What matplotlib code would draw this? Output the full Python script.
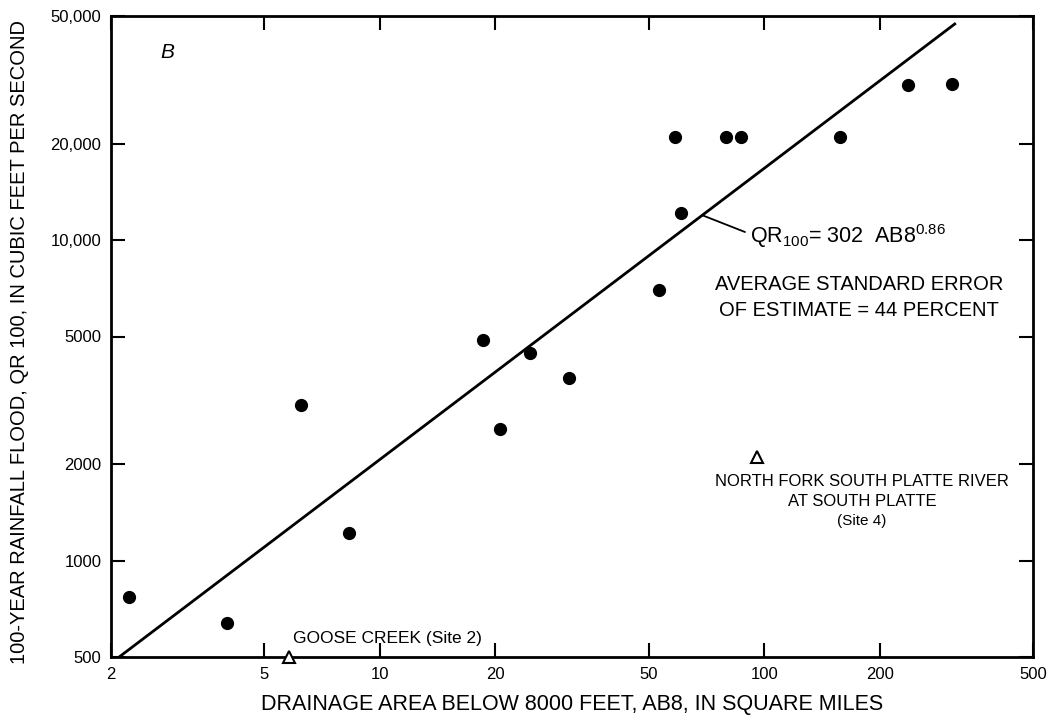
import numpy as np
import matplotlib
matplotlib.use("Agg")
import matplotlib.pyplot as plt
from matplotlib.ticker import FixedLocator, FixedFormatter, NullLocator

plt.rcParams['font.family'] = ['Liberation Sans', 'DejaVu Sans']
plt.rcParams['mathtext.fontset'] = 'custom'
plt.rcParams['mathtext.rm'] = 'Liberation Sans'
plt.rcParams['mathtext.it'] = 'Liberation Sans:italic'

# ---- data ----
area_sites = [2.23, 4.0, 6.25, 8.3, 18.6, 20.6, 24.6, 31.0, 53.3, 58.6,
              60.8, 79.5, 87.0, 157.0, 236.0, 307.0]
flood_sites = [770, 640, 3050, 1220, 4880, 2580, 4450, 3700, 7000, 21000,
               12100, 21000, 21000, 21000, 30500, 30700]

area_outliers = [5.8, 96.0]
flood_outliers = [500, 2100]

line_area = [2.1, 315.0]
line_flood = [500, 47500]

x_ticks = [2, 5, 10, 20, 50, 100, 200, 500]
x_tick_labels = ['2', '5', '10', '20', '50', '100', '200', '500']
y_ticks = [500, 1000, 2000, 5000, 10000, 20000, 50000]
y_tick_labels = ['500', '1000', '2000', '5000', '10,000', '20,000', '50,000']

W, H = 1052, 717
fig = plt.figure(figsize=(W / 100, H / 100), dpi=100)
L, R, T, B = 111, 1033, 16, 657
ax = fig.add_axes([L / W, 1 - B / H, (R - L) / W, (B - T) / H])

ax.set_xscale('log')
ax.set_yscale('log')
ax.set_xlim(2, 500)
ax.set_ylim(500, 50000)

ax.plot(line_area, line_flood, color='black', lw=2.0, solid_capstyle='butt')
ax.plot(area_sites, flood_sites, 'o', color='black', ms=8.5, clip_on=False)
ax.plot(area_outliers, flood_outliers, '^', mfc='white', mec='black',
        mew=1.5, ms=8.5, clip_on=False, zorder=5)

ax.xaxis.set_major_locator(FixedLocator(x_ticks))
ax.xaxis.set_major_formatter(FixedFormatter(x_tick_labels))
ax.xaxis.set_minor_locator(NullLocator())
ax.yaxis.set_major_locator(FixedLocator(y_ticks))
ax.yaxis.set_major_formatter(FixedFormatter(y_tick_labels))
ax.yaxis.set_minor_locator(NullLocator())
ax.tick_params(which='major', direction='in', length=10, width=1.5,
               top=True, right=True, labelsize=12, pad=7)
for s in ax.spines.values():
    s.set_linewidth(2.0)

ax.set_xlabel('DRAINAGE AREA BELOW 8000 FEET, AB8, IN SQUARE MILES', fontsize=15.5)
ax.set_ylabel('100-YEAR RAINFALL FLOOD, QR 100, IN CUBIC FEET PER SECOND', fontsize=14.5)
ax.xaxis.set_label_coords(0.5, -0.058)
ax.yaxis.set_label_coords(-0.089, 0.491)

def fx(px):
    return (px - L) / (R - L)

def fy(py):
    return (B - py) / (B - T)

ax.text(fx(167), fy(53), 'B', style='italic', fontsize=15, ha='center', va='center',
        transform=ax.transAxes)

# leader from regression line to equation
lx = 69.0
ly = 10 ** np.interp(np.log10(lx), np.log10(line_area), np.log10(line_flood))
ax.annotate('', xy=(lx, ly), xycoords='data', xytext=(fx(745), fy(232)),
            textcoords='axes fraction',
            arrowprops=dict(arrowstyle='-', color='black', lw=1.3,
                            shrinkA=0, shrinkB=0))
ax.text(fx(750), fy(243), r'QR$_{\mathregular{100}}$= 302  AB8$^{\mathregular{0.86}}$',
        fontsize=15.5, ha='left', va='baseline', transform=ax.transAxes)
ax.text(fx(859), fy(284), 'AVERAGE STANDARD ERROR', fontsize=14.5,
        ha='center', va='center', transform=ax.transAxes)
ax.text(fx(859), fy(311), 'OF ESTIMATE = 44 PERCENT', fontsize=14.5,
        ha='center', va='center', transform=ax.transAxes)

ax.text(fx(862), fy(481), 'NORTH FORK SOUTH PLATTE RIVER', fontsize=12,
        ha='center', va='center', transform=ax.transAxes)
ax.text(fx(862), fy(502), 'AT SOUTH PLATTE', fontsize=12,
        ha='center', va='center', transform=ax.transAxes)
ax.text(fx(862), fy(521), '(Site 4)', fontsize=11,
        ha='center', va='center', transform=ax.transAxes)
ax.text(fx(387), fy(638), 'GOOSE CREEK (Site 2)', fontsize=12.5,
        ha='center', va='center', transform=ax.transAxes)

fig.savefig('out.png', dpi=100)
